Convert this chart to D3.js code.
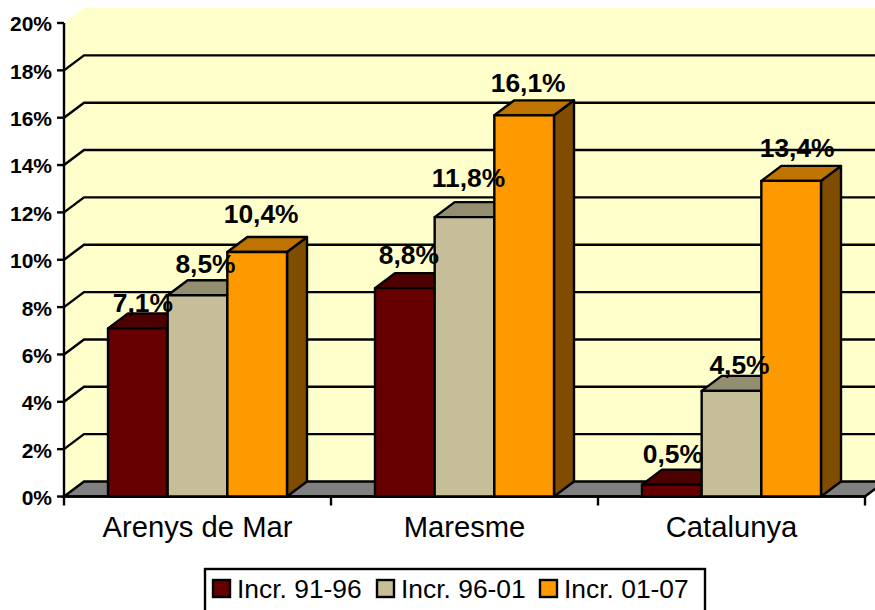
<!DOCTYPE html>
<html>
<head>
<meta charset="utf-8">
<script src="https://cdn.jsdelivr.net/npm/d3@7"></script>
<style>
  html, body { margin: 0; padding: 0; background: #fff; overflow: hidden; }
  svg { display: block; font-family: "Liberation Sans", Arial, sans-serif; }
</style>
</head>
<body>
<svg id="chart" width="875" height="610"></svg>
<script>
const categories = ["Arenys de Mar", "Maresme", "Catalunya"];
const seriesNames = ["Incr. 91-96", "Incr. 96-01", "Incr. 01-07"];
// bar heights as drawn; a few sit slightly under their printed label
const incr9196 = [7.1, 8.8, 0.5];
const incr9601 = [8.5, 11.8, 4.46];
const incr0107 = [10.33, 16.1, 13.33];
const labels9196 = ["7,1%", "8,8%", "0,5%"];
const labels9601 = ["8,5%", "11,8%", "4,5%"];
const labels0107 = ["10,4%", "16,1%", "13,4%"];
const yTicks = [0, 2, 4, 6, 8, 10, 12, 14, 16, 18, 20];

const seriesValues = [incr9196, incr9601, incr0107];
const seriesLabels = [labels9196, labels9601, labels0107];

// front, top and side face of each series
const fronts = ["#660000", "#C6BE98", "#FF9900"];
const tops = ["#4C0000", "#948E71", "#BF7300"];
const sides = ["#330000", "#635F4C", "#804D00"];

// labels don't sit at a fixed spot above the bars, so place them one by one
const labelLift = [[16, 24, 22], [22, 30, 17], [29, 23, 24]];
const labelShift = [[5, 4, 1], [8, 4, 8], [4, 4, 6]];

const chartWidth = 875;
const depthX = 20;
const depthY = 15;
const lineWidth = 2.4;
const plotLeft = 64;
const plotRight = 865;
const plotBase = 496.5;
const plotTop = 23;

const svg = d3.select("#chart");

const y = d3.scaleLinear().domain([0, 20]).range([plotBase, plotTop]);
const x = d3.scaleBand().domain(categories).range([plotLeft, plotRight]);
const xBar = d3.scaleBand().domain(seriesNames)
  .range([0, x.bandwidth()])
  .paddingInner(0)
  .paddingOuter(0.7375);
const xEdge = d3.scaleLinear().domain([0, categories.length]).range([plotLeft, plotRight]);

const poly = pts => pts.map(p => p.join(",")).join(" ");

// walls and floor
svg.append("polygon")
  .attr("points", poly([[plotLeft, plotBase], [plotLeft, plotTop], [plotLeft + depthX, plotTop - depthY],
    [plotRight + depthX, plotTop - depthY], [plotRight + depthX, plotBase - depthY], [plotLeft + depthX, plotBase - depthY]]))
  .attr("fill", "#FFFFCC");
svg.append("polygon")
  .attr("points", poly([[plotLeft, plotBase], [plotLeft + depthX, plotBase - depthY], [plotRight + depthX, plotBase - depthY], [plotRight, plotBase]]))
  .attr("fill", "#808080")
  .attr("stroke", "#000")
  .attr("stroke-width", lineWidth);

// gridlines run up the side wall and then along the back
svg.append("g").selectAll("polyline")
  .data(yTicks.filter(d => d > 0 && d < 20))
  .enter().append("polyline")
  .attr("points", d => poly([[plotLeft, y(d)], [plotLeft + depthX, y(d) - depthY], [chartWidth + depthX, y(d) - depthY]]))
  .attr("fill", "none")
  .attr("stroke", "#000")
  .attr("stroke-width", lineWidth);

// axes
const yAxis = svg.append("g")
  .attr("transform", `translate(${plotLeft},0)`)
  .call(d3.axisLeft(y).tickValues(yTicks).tickFormat(d => d + "%").tickSize(7).tickPadding(5).tickSizeOuter(0).offset(0));
yAxis.selectAll("text")
  .attr("font-size", 21)
  .attr("font-weight", "bold")
  .attr("font-family", "Liberation Sans")
  .attr("fill", "#000")
  .attr("dy", "0.4em");
yAxis.selectAll("line").attr("stroke", "#000").attr("stroke-width", lineWidth);
yAxis.select(".domain").attr("stroke", "#000").attr("stroke-width", lineWidth);

const xAxis = svg.append("g")
  .attr("transform", `translate(0,${plotBase})`)
  .call(d3.axisBottom(xEdge).tickValues(d3.range(categories.length + 1)).tickFormat("").tickSize(9).tickSizeOuter(0).offset(0));
xAxis.selectAll("line").attr("stroke", "#000").attr("stroke-width", lineWidth);
xAxis.select(".domain").attr("stroke", "#000").attr("stroke-width", lineWidth);

const xLabels = svg.append("g")
  .attr("transform", `translate(0,${plotBase})`)
  .call(d3.axisBottom(x).tickSize(0).tickPadding(20));
xLabels.select(".domain").remove();
xLabels.selectAll("text")
  .attr("font-size", 29.2)
  .attr("font-family", "Liberation Sans")
  .attr("fill", "#000");

// bars, left to right so the next front covers the previous side
const bars = [];
categories.forEach((cat, c) => {
  seriesNames.forEach((name, s) => {
    bars.push({
      cat, name, s,
      value: seriesValues[s][c],
      label: seriesLabels[s][c],
      lift: labelLift[s][c],
      shift: labelShift[s][c]
    });
  });
});

const bar = svg.append("g").selectAll("g")
  .data(bars)
  .enter().append("g")
  .attr("stroke", "#000")
  .attr("stroke-width", lineWidth)
  .attr("stroke-linejoin", "round");

const barX0 = d => x(d.cat) + xBar(d.name);
const barX1 = d => barX0(d) + xBar.bandwidth();

bar.append("polygon")
  .attr("fill", d => sides[d.s])
  .attr("points", d => poly([[barX1(d), plotBase], [barX1(d) + depthX, plotBase - depthY],
    [barX1(d) + depthX, y(d.value) - depthY], [barX1(d), y(d.value)]]));
bar.append("polygon")
  .attr("fill", d => tops[d.s])
  .attr("points", d => poly([[barX0(d), y(d.value)], [barX0(d) + depthX, y(d.value) - depthY],
    [barX1(d) + depthX, y(d.value) - depthY], [barX1(d), y(d.value)]]));
bar.append("rect")
  .attr("fill", d => fronts[d.s])
  .attr("x", barX0)
  .attr("y", d => y(d.value))
  .attr("width", xBar.bandwidth())
  .attr("height", d => plotBase - y(d.value));

// value labels go over everything
svg.append("g").selectAll("text")
  .data(bars)
  .enter().append("text")
  .attr("x", d => barX0(d) + xBar.bandwidth() / 2 + d.shift)
  .attr("y", d => y(d.value) - d.lift)
  .attr("text-anchor", "middle")
  .attr("font-size", 26.4)
  .attr("font-weight", "bold")
  .attr("fill", "#000")
  .text(d => d.label);

// legend, its bottom edge falls outside the picture
const legendX = [213, 377, 540];
const legend = svg.append("g");
legend.append("rect")
  .attr("x", 205)
  .attr("y", 569)
  .attr("width", 500)
  .attr("height", 60)
  .attr("fill", "#fff")
  .attr("stroke", "#000")
  .attr("stroke-width", lineWidth);
const item = legend.selectAll("g")
  .data(seriesNames)
  .enter().append("g")
  .attr("transform", (d, i) => `translate(${legendX[i]},580)`);
item.append("rect")
  .attr("width", 17)
  .attr("height", 17)
  .attr("fill", (d, i) => fronts[i])
  .attr("stroke", "#000")
  .attr("stroke-width", lineWidth);
item.append("text")
  .attr("x", 24)
  .attr("y", 18)
  .attr("font-size", 26.4)
  .attr("fill", "#000")
  .text(d => d);
</script>
</body>
</html>
